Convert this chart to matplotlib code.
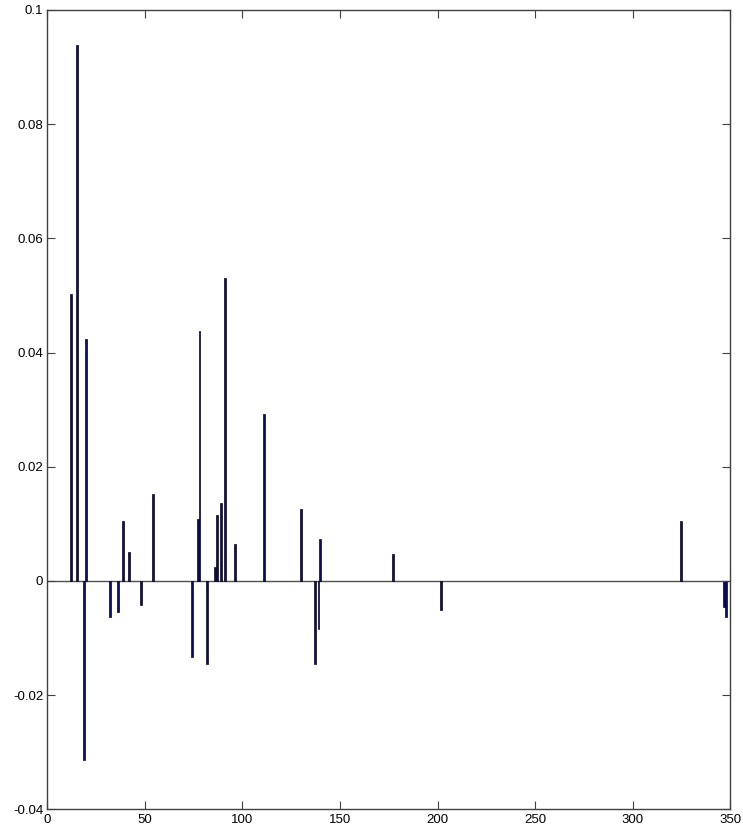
from matplotlib import pyplot as plt

# bar positions and heights
positions = [12, 15, 19, 20, 32, 36, 39, 42, 48, 54, 74, 77, 78, 82, 86, 87, 89, 91,
             96, 111, 130, 137, 139, 140, 177, 202, 325, 347, 348]
heights = [0.0503, 0.0938, -0.0313, 0.0423, -0.0063, -0.0055, 0.0105, 0.0051, -0.0042,
           0.0152, -0.0134, 0.0108, 0.0438, -0.0145, 0.0025, 0.0116, 0.0137, 0.0531,
           0.0064, 0.0293, 0.0126, -0.0145, -0.0084, 0.0074, 0.0048, -0.0050, 0.0105,
           -0.0045, -0.0063]

x_ticks = [0, 50, 100, 150, 200, 250, 300, 350]
y_ticks = [-0.04, -0.02, 0, 0.02, 0.04, 0.06, 0.08, 0.1]
y_labels = ['-0.04', '-0.02', '0', '0.02', '0.04', '0.06', '0.08', '0.1']


def main():
    plt.rcParams['font.family'] = ['Liberation Sans', 'DejaVu Sans']
    fig = plt.figure(figsize=(7.43, 8.33), dpi=100)
    ax = fig.add_axes([0.0637, 0.0284, 0.9190, 0.9596])

    ax.bar(positions, heights, width=1.0, color='#0e0e58',
           edgecolor='#050520', linewidth=0.5)
    ax.axhline(0, color='#505050', linewidth=1.0, zorder=0)

    ax.set_xlim(0, 350)
    ax.set_ylim(-0.04, 0.1)
    ax.set_xticks(x_ticks)
    ax.set_yticks(y_ticks)
    ax.set_yticklabels(y_labels)

    for side in ax.spines.values():
        side.set_color('#404040')
        side.set_linewidth(1.0)
    ax.tick_params(direction='in', length=6, width=0.8, color='#404040',
                   top=True, right=True, labelsize=9.5, pad=3)

    fig.savefig('out.png', dpi=100)


if __name__ == '__main__':
    main()
